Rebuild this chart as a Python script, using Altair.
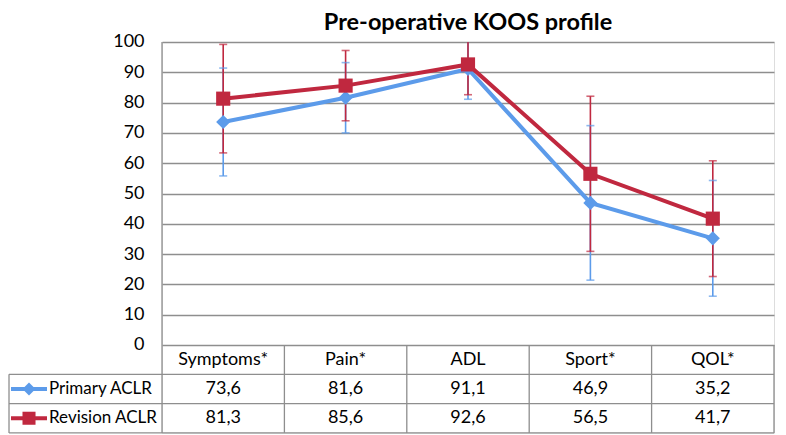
import altair as alt
import pandas as pd

# ---------------- data ----------------
categories = ["Symptoms*", "Pain*", "ADL", "Sport*", "QOL*"]
series_names = ["Primary ACLR", "Revision ACLR"]
primary_mean = [73.6, 81.6, 91.1, 46.9, 35.2]
revision_mean = [81.3, 85.6, 92.6, 56.5, 41.7]
primary_sd = [17.8, 11.6, 10.0, 25.5, 19.1]
revision_sd = [17.9, 11.6, 10.0, 25.6, 19.1]
y_ticks = [0, 10, 20, 30, 40, 50, 60, 70, 80, 90, 100]
title_text = "Pre-operative KOOS profile"

# ---------------- style / layout ----------------
BLUE = "#4A8FE8"
RED = "#C62F48"
BLUE_ERR = "#5C9BEA"
RED_ERR = "#C0283F"
GRID = "#8E8E8E"
FONT = "Lato"
FS = 18

W = 612
H_PLOT = 303
Y_MAX = 100
PX_PER_Y = H_PLOT / Y_MAX
ROW_PX = 29.3
N_ROWS = 3
ROW_U = ROW_PX / PX_PER_Y
Y_MIN = -N_ROWS * ROW_U
H = H_PLOT + N_ROWS * ROW_PX
N = len(categories)
PX_PER_X = W / N
LABEL_LEFT = -153 / PX_PER_X
LEG_X1 = -151 / PX_PER_X
LEG_X2 = -115 / PX_PER_X
LEG_XM = (LEG_X1 + LEG_X2) / 2
LABEL_X = -113 / PX_PER_X

xs = alt.Scale(domain=[0, N], nice=False, zero=False)
ys = alt.Scale(domain=[Y_MIN, Y_MAX], nice=False, zero=False)
yaxis = alt.Axis(values=y_ticks, grid=True, gridColor=GRID, gridWidth=1.3, title=None,
                 domain=False, ticks=False, labelFont=FONT, labelFontSize=FS,
                 labelColor="black", labelPadding=18, format="d")


def X(field):
    return alt.X(field, scale=xs, axis=None, title=None)


def Y(field):
    return alt.Y(field, scale=ys, axis=yaxis, title=None)


# ---------------- tables ----------------
rows = []
for si, (s, means, sds) in enumerate(zip(series_names, [primary_mean, revision_mean], [primary_sd, revision_sd])):
    for i, c in enumerate(categories):
        m, sd = means[i], sds[i]
        hi = m + sd
        rows.append(dict(
            series=s, cat=c, x=i + 0.5, mean=m,
            lo=m - sd, hi=min(hi, Y_MAX),
            cap_hi=hi if hi <= Y_MAX else None,
            txt=f"{m:.1f}".replace(".", ","),
            row_y=-(si + 1.5) * ROW_U,
        ))
df = pd.DataFrame(rows)

hdr = pd.DataFrame({"cat": categories, "x": [i + 0.5 for i in range(N)], "row_y": [-0.5 * ROW_U] * N})
leg = pd.DataFrame({"series": series_names,
                    "x1": [LEG_X1] * 2, "x2": [LEG_X2] * 2, "xm": [LEG_XM] * 2, "xl": [LABEL_X] * 2,
                    "row_y": [-(k + 1.5) * ROW_U for k in range(2)]})

seg = []
for k in range(1, N_ROWS + 1):
    seg.append(dict(x=LABEL_LEFT, x2=N, y=-k * ROW_U, y2=-k * ROW_U))
seg.append(dict(x=0, x2=0, y=Y_MAX, y2=Y_MIN))
for j in range(1, N + 1):
    seg.append(dict(x=j, x2=j, y=0, y2=Y_MIN))
seg.append(dict(x=LABEL_LEFT, x2=LABEL_LEFT, y=-ROW_U, y2=Y_MIN))
segdf = pd.DataFrame(seg)

color = alt.Color("series:N", scale=alt.Scale(domain=series_names, range=[BLUE, RED]), legend=None)
errcolor = alt.Color("series:N", scale=alt.Scale(domain=series_names, range=[BLUE_ERR, RED_ERR]), legend=None)
shape = alt.Shape("series:N", scale=alt.Scale(domain=series_names, range=["diamond", "square"]), legend=None)

borders = alt.Chart(segdf).mark_rule(color=GRID, strokeWidth=1.3).encode(
    x=X("x:Q"), x2="x2:Q", y=Y("y:Q"), y2="y2:Q",
)

err_bars = alt.Chart(df).mark_rule(strokeWidth=1.6).encode(
    x=X("x:Q"), y=Y("lo:Q"), y2="hi:Q", color=errcolor,
)
caps_lo = alt.Chart(df).mark_tick(orient="horizontal", size=8, thickness=1.6).encode(
    x=X("x:Q"), y=Y("lo:Q"), color=errcolor,
)
caps_hi = alt.Chart(df).transform_filter("isValid(datum.cap_hi)").mark_tick(
    orient="horizontal", size=8, thickness=1.6).encode(
    x=X("x:Q"), y=Y("cap_hi:Q"), color=errcolor,
)

lines = alt.Chart(df).mark_line(strokeWidth=4).encode(
    x=X("x:Q"), y=Y("mean:Q"), color=color, detail="series:N",
)
points = alt.Chart(df).mark_point(filled=True, opacity=1, size=200).encode(
    x=X("x:Q"), y=Y("mean:Q"), color=color, shape=shape,
)

hdr_text = alt.Chart(hdr).mark_text(font=FONT, fontSize=FS, color="black", baseline="middle").encode(
    x=X("x:Q"), y=Y("row_y:Q"), text="cat:N",
)
val_text = alt.Chart(df).mark_text(font=FONT, fontSize=FS, color="black", baseline="middle").encode(
    x=X("x:Q"), y=Y("row_y:Q"), text="txt:N",
)
leg_line = alt.Chart(leg).mark_rule(strokeWidth=4).encode(
    x=X("x1:Q"), x2="x2:Q", y=Y("row_y:Q"), color=color,
)
leg_pt = alt.Chart(leg).mark_point(filled=True, opacity=1, size=170).encode(
    x=X("xm:Q"), y=Y("row_y:Q"), color=color, shape=shape,
)
leg_txt = alt.Chart(leg).mark_text(font=FONT, fontSize=17, color="black", align="left", baseline="middle").encode(
    x=X("xl:Q"), y=Y("row_y:Q"), text="series:N",
)

chart = alt.layer(
    borders, err_bars, caps_lo, caps_hi, lines, points,
    hdr_text, val_text, leg_line, leg_pt, leg_txt,
).properties(
    width=W, height=H, padding={"top": 3, "left": 0, "right": 0, "bottom": 0},
    title=alt.TitleParams(title_text, font=FONT, fontSize=23.5, fontWeight="bold", color="black",
                          anchor="middle", frame="group", offset=-2),
).configure_view(stroke=None).configure(background="white")

chart.save("out.html", embed_options={"renderer": "svg", "actions": False})
